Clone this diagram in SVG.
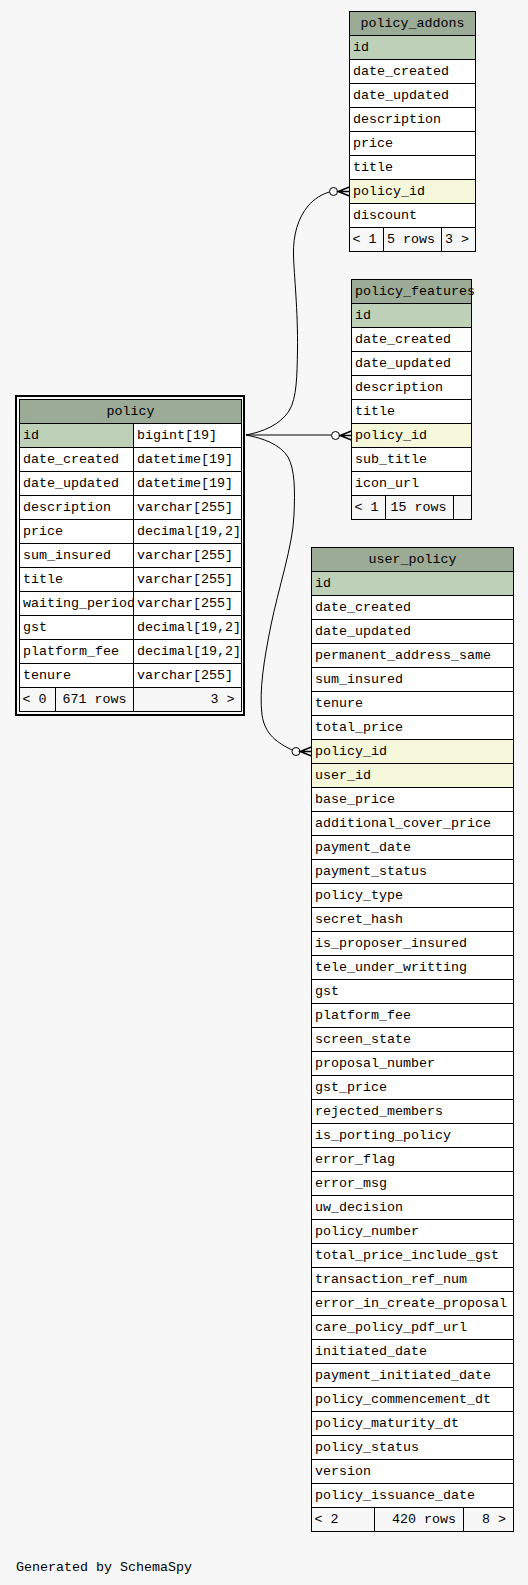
<svg xmlns="http://www.w3.org/2000/svg" width="528" height="1585" viewBox="0 0 528 1585">
<style>
.t{font-family:"Liberation Mono","DejaVu Sans Mono",monospace;font-size:13.33px;fill:#000}
.m{text-anchor:middle}
.e{text-anchor:end}
.hd{fill:#9bab96}
.pk{fill:#bed1b8}
.fk{fill:#f4f7da}
.bd{fill:#fff}
.ft{fill:#f7f7f7}
.ln{fill:none;stroke:#000;stroke-width:1}
.cn{fill:none;stroke:#000;stroke-width:1}
.cr{fill:none;stroke:#000;stroke-width:1.4}
.od{fill:#f7f7f7;stroke:#000;stroke-width:1}
</style>
<defs>
<clipPath id="clipName"><rect x="19.5" y="591.5" width="114" height="24"/></clipPath>
</defs>
<rect width="528" height="1585" fill="#f7f7f7"/>

<g id="connectors">
<path class="cn" d="M246,435 H331.5"/>
<circle class="od" cx="335.5" cy="435.5" r="4"/>
<path class="cr" d="M351.5,431 L340,435.5 L351.5,440 M340,435.5 H351.5"/>

<path class="cn" d="M246,435 C262,432 280,425 289,411 C297,398 297,375 297.5,350 C298,310 294,275 293.5,255 C293,235 298,218 308,206 C314,199 322,194 329.5,192"/>
<circle class="od" cx="333.5" cy="191.5" r="4"/>
<path class="cr" d="M349.5,187 L338,191.5 L349.5,196 M338,191.5 H349.5"/>

<path class="cn" d="M246,435 C262,438 280,444 288,457 C295,470 295,490 294,515 C293,545 278,590 271,625 C264,660 259,690 262,715 C265,735 278,743 292,750"/>
<circle class="od" cx="296" cy="751.5" r="4"/>
<path class="cr" d="M311.5,747 L300,751.5 L311.5,756 M300,751.5 H311.5"/>
</g>

<g id="policy_addons">
<rect class="bd" x="349.5" y="11.5" width="126" height="240"/>
<rect class="hd" x="349.5" y="11.5" width="126" height="24"/>
<rect class="pk" x="349.5" y="35.5" width="126" height="24"/>
<rect class="fk" x="349.5" y="179.5" width="126" height="24"/>
<rect class="ft" x="349.5" y="227.5" width="126" height="24"/>
<rect class="ln" x="349.5" y="11.5" width="126" height="240"/>
<path class="ln" d="M349.5,35.5H475.5M349.5,59.5H475.5M349.5,83.5H475.5M349.5,107.5H475.5M349.5,131.5H475.5M349.5,155.5H475.5M349.5,179.5H475.5M349.5,203.5H475.5M349.5,227.5H475.5M383.5,227.5V251.5M441.5,227.5V251.5"/>
<text class="t m" x="412.5" y="27">policy_addons</text>
<text class="t" x="353" y="51">id</text>
<text class="t" x="353" y="75">date_created</text>
<text class="t" x="353" y="99">date_updated</text>
<text class="t" x="353" y="123">description</text>
<text class="t" x="353" y="147">price</text>
<text class="t" x="353" y="171">title</text>
<text class="t" x="353" y="195">policy_id</text>
<text class="t" x="353" y="219">discount</text>
<text class="t" x="352.5" y="243">&lt; 1</text>
<text class="t e" x="435" y="243">5 rows</text>
<text class="t e" x="469" y="243">3 &gt;</text>
</g>

<g id="policy_features">
<rect class="bd" x="351.5" y="279.5" width="120" height="240"/>
<rect class="hd" x="351.5" y="279.5" width="120" height="24"/>
<rect class="pk" x="351.5" y="303.5" width="120" height="24"/>
<rect class="fk" x="351.5" y="423.5" width="120" height="24"/>
<rect class="ft" x="351.5" y="495.5" width="120" height="24"/>
<rect class="ln" x="351.5" y="279.5" width="120" height="240"/>
<path class="ln" d="M351.5,303.5H471.5M351.5,327.5H471.5M351.5,351.5H471.5M351.5,375.5H471.5M351.5,399.5H471.5M351.5,423.5H471.5M351.5,447.5H471.5M351.5,471.5H471.5M351.5,495.5H471.5M385.5,495.5V519.5M453.5,495.5V519.5"/>
<text class="t" x="355" y="295">policy_features</text>
<text class="t" x="355" y="319">id</text>
<text class="t" x="355" y="343">date_created</text>
<text class="t" x="355" y="367">date_updated</text>
<text class="t" x="355" y="391">description</text>
<text class="t" x="355" y="415">title</text>
<text class="t" x="355" y="439">policy_id</text>
<text class="t" x="355" y="463">sub_title</text>
<text class="t" x="355" y="487">icon_url</text>
<text class="t" x="354.5" y="511">&lt; 1</text>
<text class="t e" x="446.5" y="511">15 rows</text>
</g>

<g id="policy">
<rect class="bd" x="19.5" y="399.5" width="222" height="312"/>
<rect class="hd" x="19.5" y="399.5" width="222" height="24"/>
<rect class="pk" x="19.5" y="423.5" width="114" height="24"/>
<rect class="ft" x="19.5" y="687.5" width="222" height="24"/>
<rect class="ln" x="19.5" y="399.5" width="222" height="312"/>
<path class="ln" d="M19.5,423.5H241.5M19.5,447.5H241.5M19.5,471.5H241.5M19.5,495.5H241.5M19.5,519.5H241.5M19.5,543.5H241.5M19.5,567.5H241.5M19.5,591.5H241.5M19.5,615.5H241.5M19.5,639.5H241.5M19.5,663.5H241.5M19.5,687.5H241.5M133.5,423.5V711.5M55.5,687.5V711.5"/>
<rect x="16" y="396" width="228" height="319" fill="none" stroke="#000" stroke-width="2"/>
<text class="t m" x="130.5" y="415">policy</text>
<text class="t" x="23" y="439">id</text>
<text class="t" x="137" y="439">bigint[19]</text>
<text class="t" x="23" y="463">date_created</text>
<text class="t" x="137" y="463">datetime[19]</text>
<text class="t" x="23" y="487">date_updated</text>
<text class="t" x="137" y="487">datetime[19]</text>
<text class="t" x="23" y="511">description</text>
<text class="t" x="137" y="511">varchar[255]</text>
<text class="t" x="23" y="535">price</text>
<text class="t" x="137" y="535">decimal[19,2]</text>
<text class="t" x="23" y="559">sum_insured</text>
<text class="t" x="137" y="559">varchar[255]</text>
<text class="t" x="23" y="583">title</text>
<text class="t" x="137" y="583">varchar[255]</text>
<text class="t" x="23" y="607" clip-path="url(#clipName)">waiting_period</text>
<text class="t" x="137" y="607">varchar[255]</text>
<text class="t" x="23" y="631">gst</text>
<text class="t" x="137" y="631">decimal[19,2]</text>
<text class="t" x="23" y="655">platform_fee</text>
<text class="t" x="137" y="655">decimal[19,2]</text>
<text class="t" x="23" y="679">tenure</text>
<text class="t" x="137" y="679">varchar[255]</text>
<text class="t" x="22.5" y="703">&lt; 0</text>
<text class="t e" x="126.5" y="703">671 rows</text>
<text class="t e" x="234.5" y="703">3 &gt;</text>
</g>

<g id="user_policy">
<rect class="bd" x="311.5" y="547.5" width="202" height="984"/>
<rect class="hd" x="311.5" y="547.5" width="202" height="24"/>
<rect class="pk" x="311.5" y="571.5" width="202" height="24"/>
<rect class="fk" x="311.5" y="739.5" width="202" height="48"/>
<rect class="ft" x="311.5" y="1507.5" width="202" height="24"/>
<rect class="ln" x="311.5" y="547.5" width="202" height="984"/>
<path class="ln" d="M311.5,571.5H513.5M311.5,595.5H513.5M311.5,619.5H513.5M311.5,643.5H513.5M311.5,667.5H513.5M311.5,691.5H513.5M311.5,715.5H513.5M311.5,739.5H513.5M311.5,763.5H513.5M311.5,787.5H513.5M311.5,811.5H513.5M311.5,835.5H513.5M311.5,859.5H513.5M311.5,883.5H513.5M311.5,907.5H513.5M311.5,931.5H513.5M311.5,955.5H513.5M311.5,979.5H513.5M311.5,1003.5H513.5M311.5,1027.5H513.5M311.5,1051.5H513.5M311.5,1075.5H513.5M311.5,1099.5H513.5M311.5,1123.5H513.5M311.5,1147.5H513.5M311.5,1171.5H513.5M311.5,1195.5H513.5M311.5,1219.5H513.5M311.5,1243.5H513.5M311.5,1267.5H513.5M311.5,1291.5H513.5M311.5,1315.5H513.5M311.5,1339.5H513.5M311.5,1363.5H513.5M311.5,1387.5H513.5M311.5,1411.5H513.5M311.5,1435.5H513.5M311.5,1459.5H513.5M311.5,1483.5H513.5M311.5,1507.5H513.5M374.5,1507.5V1531.5M463.5,1507.5V1531.5"/>
<text class="t m" x="412.5" y="563">user_policy</text>
<text class="t" x="315" y="587">id</text>
<text class="t" x="315" y="611">date_created</text>
<text class="t" x="315" y="635">date_updated</text>
<text class="t" x="315" y="659">permanent_address_same</text>
<text class="t" x="315" y="683">sum_insured</text>
<text class="t" x="315" y="707">tenure</text>
<text class="t" x="315" y="731">total_price</text>
<text class="t" x="315" y="755">policy_id</text>
<text class="t" x="315" y="779">user_id</text>
<text class="t" x="315" y="803">base_price</text>
<text class="t" x="315" y="827">additional_cover_price</text>
<text class="t" x="315" y="851">payment_date</text>
<text class="t" x="315" y="875">payment_status</text>
<text class="t" x="315" y="899">policy_type</text>
<text class="t" x="315" y="923">secret_hash</text>
<text class="t" x="315" y="947">is_proposer_insured</text>
<text class="t" x="315" y="971">tele_under_writting</text>
<text class="t" x="315" y="995">gst</text>
<text class="t" x="315" y="1019">platform_fee</text>
<text class="t" x="315" y="1043">screen_state</text>
<text class="t" x="315" y="1067">proposal_number</text>
<text class="t" x="315" y="1091">gst_price</text>
<text class="t" x="315" y="1115">rejected_members</text>
<text class="t" x="315" y="1139">is_porting_policy</text>
<text class="t" x="315" y="1163">error_flag</text>
<text class="t" x="315" y="1187">error_msg</text>
<text class="t" x="315" y="1211">uw_decision</text>
<text class="t" x="315" y="1235">policy_number</text>
<text class="t" x="315" y="1259">total_price_include_gst</text>
<text class="t" x="315" y="1283">transaction_ref_num</text>
<text class="t" x="315" y="1307">error_in_create_proposal</text>
<text class="t" x="315" y="1331">care_policy_pdf_url</text>
<text class="t" x="315" y="1355">initiated_date</text>
<text class="t" x="315" y="1379">payment_initiated_date</text>
<text class="t" x="315" y="1403">policy_commencement_dt</text>
<text class="t" x="315" y="1427">policy_maturity_dt</text>
<text class="t" x="315" y="1451">policy_status</text>
<text class="t" x="315" y="1475">version</text>
<text class="t" x="315" y="1499">policy_issuance_date</text>
<text class="t" x="314.5" y="1523">&lt; 2</text>
<text class="t e" x="456" y="1523">420 rows</text>
<text class="t e" x="506" y="1523">8 &gt;</text>
</g>

<text class="t" x="16" y="1571">Generated by SchemaSpy</text>
</svg>
